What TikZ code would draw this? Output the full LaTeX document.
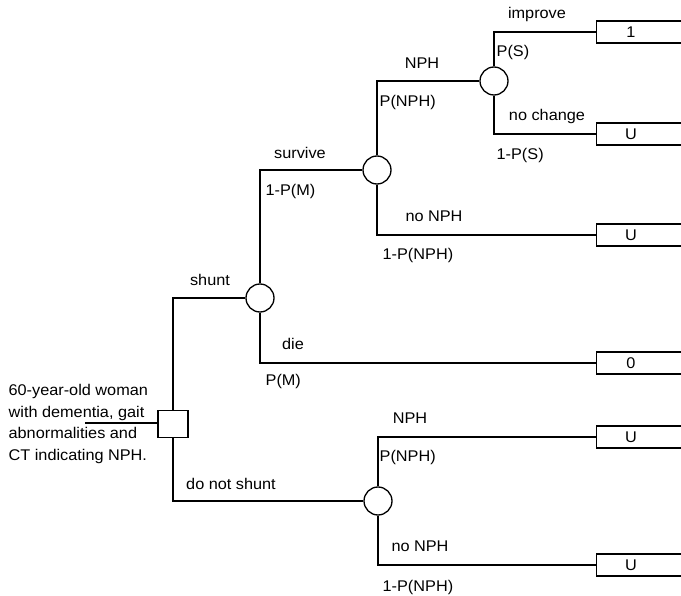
\documentclass[tikz,border=0pt]{standalone}
\usepackage{fontspec}
\setmainfont{Liberation Sans}[FakeStretch=1.05]
\begin{document}
\begin{tikzpicture}[x=1pt,y=-1pt,line width=1.3pt,
  txt/.style={inner sep=0pt,font=\fontsize{15.5}{21.7}\selectfont},
  lbl/.style={txt,text height=11pt,text depth=0pt},
  chance/.style={circle,draw,fill=white,minimum size=28pt,inner sep=0pt},
  decision/.style={rectangle,draw,fill=white,line width=1.8pt,minimum width=30pt,minimum height=27pt,inner sep=0pt},
  term/.style={lbl,minimum width=68pt,minimum height=21pt},
  boxline/.style={line width=1.4pt},
]
\useasboundingbox (0,0) rectangle (681,596);
\coordinate (R) at (681,0);

% nodes
\node[decision] (dec) at (173,424) {};
\node[chance] (c1) at (260,298) {};
\node[chance] (c2) at (377,170) {};
\node[chance] (c4) at (494,81) {};
\node[chance] (c3) at (378,501) {};

\node[term] (t1) at (631,32) {1};
\node[term] (t2) at (631,134) {U};
\node[term] (t3) at (631,235) {U};
\node[term] (t4) at (631,363) {0};
\node[term] (t5) at (631,437) {U};
\node[term] (t6) at (631,565) {U};

\foreach \t in {t1,t2,t3,t4,t5,t6}
  \draw[boxline] (\t.north west -| R) -- (\t.north west) -- (\t.south west) -- (\t.south west -| R);

% description
\node[txt,align=left,anchor=west] (desc) at (8,424) {60-year-old woman\\with dementia, gait\\abnormalities and\\CT indicating NPH.};
\coordinate (u) at (85,423);

% connectors
\draw (u) -- (u -| dec.west);
\draw (c1.west) -| (dec.north);
\draw (c3.west) -| (dec.south);
\draw (c1.north) |- (c2.west);
\draw (c1.south) |- (t4.west);
\draw (c2.north) |- (c4.west);
\draw (c2.south) |- (t3.west);
\draw (c4.north) |- (t1.west);
\draw (c4.south) |- (t2.west);
\draw (c3.north) |- (t5.west);
\draw (c3.south) |- (t6.west);

% labels
\node[lbl] (lshunt) at (210,280) {shunt};
\node[lbl] (ldns) at (231,484) {do not shunt};
\node[lbl] (lsurv) at (300,153) {survive};
\node[lbl,anchor=west] (lpm1) at (265,190) {1-P(M)};
\node[lbl] (ldie) at (293,344) {die};
\node[lbl,anchor=west] (lpm) at (265,380) {P(M)};
\node[lbl] (lnph1) at (422,63) {NPH};
\node[lbl,anchor=west] (lpnph1) at (379,101) {P(NPH)};
\node[lbl] (lnonph1) at (434,216) {no NPH};
\node[lbl,anchor=west] (l1pnph1) at (382,254) {1-P(NPH)};
\node[lbl] (limp) at (537,13) {improve};
\node[lbl,anchor=west] (lps) at (496,51) {P(S)};
\node[lbl] (lnoch) at (547,115) {no change};
\node[lbl,anchor=west] (l1ps) at (496,154) {1-P(S)};
\node[lbl] (lnph2) at (410,418) {NPH};
\node[lbl,anchor=west] (lpnph2) at (379,456) {P(NPH)};
\node[lbl] (lnonph2) at (420,546) {no NPH};
\node[lbl,anchor=west] (l1pnph2) at (382,586) {1-P(NPH)};
\end{tikzpicture}
\end{document}
